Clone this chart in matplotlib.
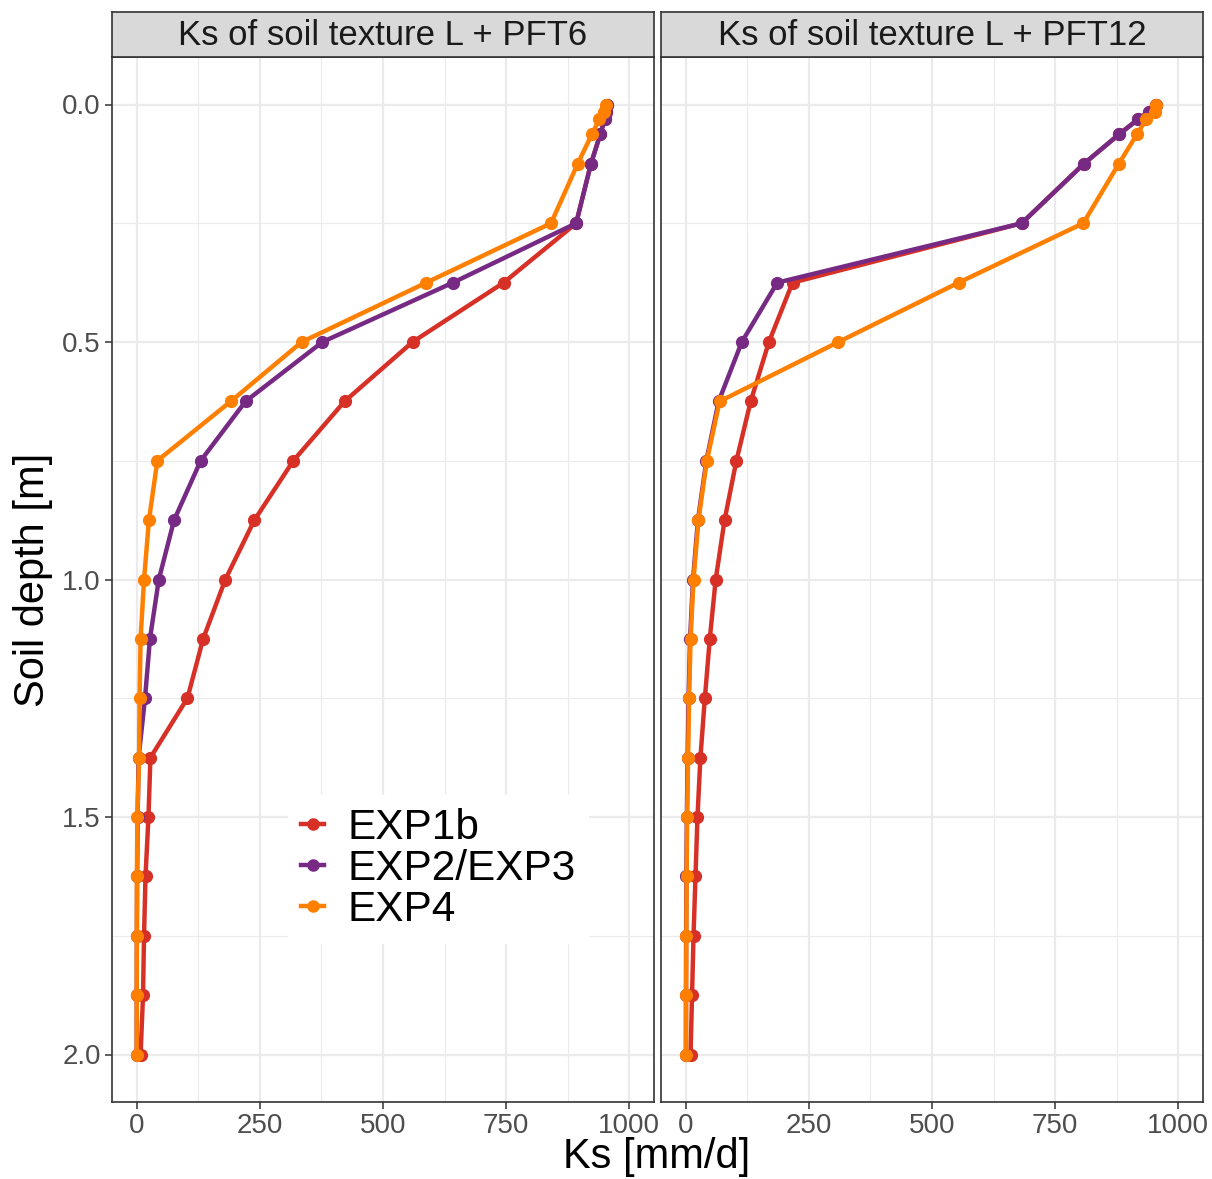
import numpy as np
import matplotlib
matplotlib.use("Agg")
import matplotlib.pyplot as plt

plt.rcParams['font.family'] = ['Liberation Sans', 'DejaVu Sans']

# soil layer depths [m]
depth = [0, 0.0156, 0.03125, 0.0625, 0.125, 0.25, 0.375, 0.5, 0.625, 0.75,
         0.875, 1.0, 1.125, 1.25, 1.375, 1.5, 1.625, 1.75, 1.875, 2.0]

panels = ["Ks of soil texture L + PFT6", "Ks of soil texture L + PFT12"]
series = ["EXP1b", "EXP2/EXP3", "EXP4"]
colors = ["#D73027", "#762A83", "#FF7F00"]

# Ks [mm/d], PFT6
pft6_exp1b = [955, 953, 950, 941, 922, 892, 745, 560, 422, 318, 239, 180, 135, 103, 28, 24, 18, 15, 13, 8]
pft6_exp23 = [955, 953, 950, 941, 922, 892, 642, 377, 221, 130, 76, 45, 27, 17, 4, 2, 1, 0.5, 0.3, 0.2]
pft6_exp4 = [953, 948, 939, 924, 895, 841, 588, 335, 191, 42, 25, 15, 8, 6, 5, 1.5, 0.5, 0.3, 0.2, 0.1]

# Ks [mm/d], PFT12
pft12_exp1b = [955, 940, 918, 880, 808, 682, 217, 169, 132, 103, 79, 61, 49, 39, 30, 24, 20, 16, 13, 10]
pft12_exp23 = [955, 940, 918, 880, 808, 682, 186, 114, 67, 42, 25, 15, 9, 6, 4, 2.5, 1.5, 1, 0.7, 0.5]
pft12_exp4 = [955, 953, 935, 916, 879, 807, 554, 310, 69, 43, 26, 16, 10, 7, 5, 3, 2, 1.5, 1, 1]

data = [[pft6_exp1b, pft6_exp23, pft6_exp4],
        [pft12_exp1b, pft12_exp23, pft12_exp4]]

fig = plt.figure(figsize=(12.12, 11.79), dpi=100)

lefts = [112 / 1212, 661 / 1212]
width = 542 / 1212
bottom = 1 - 1102 / 1179
height = 1045 / 1179
strip_h = 45 / 1179

axes = []
for i in range(2):
    ax = fig.add_axes([lefts[i], bottom, width, height])
    axes.append(ax)

    # grid like theme_bw
    ax.set_xticks([0, 250, 500, 750, 1000])
    ax.set_xticks([125, 375, 625, 875], minor=True)
    ax.set_yticks([0, 0.5, 1.0, 1.5, 2.0])
    ax.set_yticks([0.25, 0.75, 1.25, 1.75], minor=True)
    ax.grid(which='major', color='#EBEBEB', linewidth=1.6)
    ax.grid(which='minor', color='#EBEBEB', linewidth=0.8)
    ax.set_axisbelow(True)

    for k in range(3):
        ax.plot(data[i][k], depth, color=colors[k], linewidth=3.2, marker='o',
                markersize=8.5, label=series[k], solid_joinstyle='round')

    ax.set_xlim(-50, 1050)
    ax.set_ylim(2.1, -0.1)

    for s in ax.spines.values():
        s.set_color('#333333')
        s.set_linewidth(1.2)
    ax.tick_params(which='major', color='#333333', length=5, width=1.1,
                   labelsize=20, labelcolor='#4D4D4D', pad=3)
    ax.tick_params(which='minor', length=0)
    ax.set_xticklabels(["0", "250", "500", "750", "1000"])
    if i == 0:
        ax.set_yticklabels(["0.0", "0.5", "1.0", "1.5", "2.0"])
    else:
        ax.tick_params(axis='y', which='both', left=False, labelleft=False)

    # facet strip
    sax = fig.add_axes([lefts[i], bottom + height, width, strip_h])
    sax.set_facecolor('#D9D9D9')
    sax.set_xticks([])
    sax.set_yticks([])
    for s in sax.spines.values():
        s.set_color('#333333')
        s.set_linewidth(1.2)
    sax.text(0.5, 0.47, panels[i], ha='center', va='center', fontsize=25,
             color='#1A1A1A', transform=sax.transAxes)

leg = axes[0].legend(loc='center', bbox_to_anchor=(0.602, 0.223), fontsize=30.5,
                     frameon=True, handlelength=0.55, handletextpad=0.55,
                     labelspacing=0.02, borderpad=0.3, borderaxespad=0)
leg.get_frame().set_facecolor('white')
leg.get_frame().set_edgecolor('white')
leg.get_frame().set_alpha(1)
leg.get_frame().set_boxstyle('square', pad=0)
for h in leg.legend_handles:
    h.set_linewidth(3.2)
    h.set_markersize(8)

fig.text(657 / 1212, 1 - 1157 / 1179, "Ks [mm/d]", ha='center', va='center',
         fontsize=30, color='black')
fig.text(33 / 1212, 1 - 580 / 1179, "Soil depth [m]", ha='center', va='center',
         fontsize=30, color='black', rotation=90)

fig.savefig("out.png", dpi=100)
